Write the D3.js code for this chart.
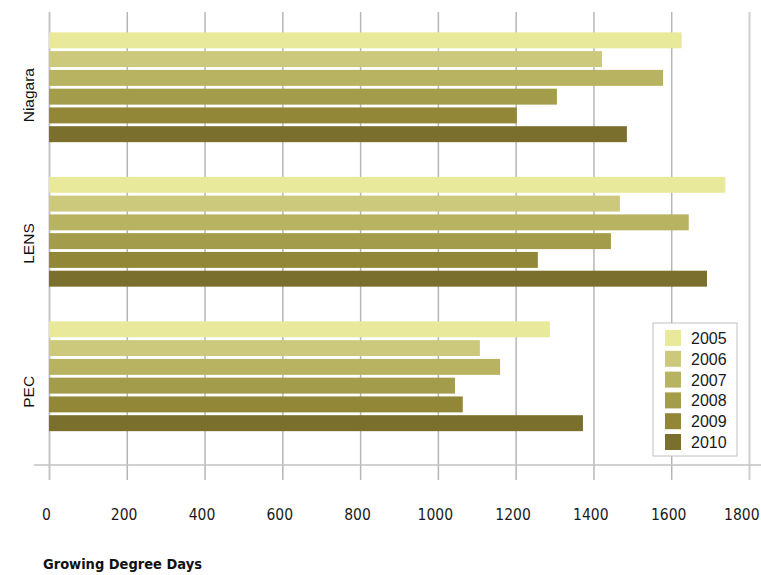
<!DOCTYPE html>
<html>
<head>
<meta charset="utf-8">
<script src="https://cdn.jsdelivr.net/npm/d3@7"></script>
<style>
  body { margin: 0; background: #fff; }
  svg { display: block; }
</style>
</head>
<body>
<svg id="chart" width="761" height="575"></svg>
<script>
// dati
const sites = ["Niagara", "LENS", "PEC"];
const years = ["2005", "2006", "2007", "2008", "2009", "2010"];
const colors = ["#e8e99b", "#ccc97c", "#b8b360", "#a39c4a", "#918737", "#7b6f2e"];
const gddNiagara = [1627, 1422, 1579, 1306, 1203, 1486];
const gddLens = [1739, 1468, 1645, 1445, 1257, 1692];
const gddPec = [1288, 1108, 1160, 1044, 1064, 1373];
const xTicks = [0, 200, 400, 600, 800, 1000, 1200, 1400, 1600, 1800];

const values = { Niagara: gddNiagara, LENS: gddLens, PEC: gddPec };
const rows = [];
sites.forEach(s => years.forEach((y, i) => rows.push({ site: s, year: y, v: values[s][i] })));

const svg = d3.select("#chart");
const plotTop = 12, axisY = 465;
const narrow = "'DejaVu Sans Condensed', 'DejaVu Sans', sans-serif";

const x = d3.scaleLinear().domain([0, 1800]).range([49, 749]);
const y0 = d3.scaleBand().domain(sites).range([15, 448.5]).paddingInner(0.24).paddingOuter(0.12);
const y1 = d3.scaleBand().domain(years).range([0, y0.bandwidth()]).paddingInner(0.15);
const yLab = d3.scaleBand().domain(sites).range([20, 465]);
const color = d3.scaleOrdinal().domain(years).range(colors);

//griglia + tick + etichette
const gx = svg.append("g")
  .attr("transform", `translate(0,${axisY})`)
  .call(d3.axisBottom(x).tickValues(xTicks).tickFormat(d3.format("d")).tickSize(15).tickPadding(29));
gx.select(".domain").remove();
gx.selectAll(".tick line")
  .attr("y1", -(axisY - plotTop))
  .attr("y2", 15)
  .attr("stroke", d => d === 0 ? "#c6c6c6" : (d === 1800 ? "#cfcfcf" : "#b6b6b6"))
  .attr("stroke-width", d => d === 0 || d === 1800 ? 2 : 1.5);
gx.selectAll(".tick text")
  .attr("dx", d => d === 1800 ? "-0.5em" : "-0.2em")
  .attr("fill", "#1a1a1a")
  .style("font-family", narrow)
  .style("font-stretch", "condensed")
  .style("font-size", "15.5px");

svg.append("line")
  .attr("x1", 34).attr("x2", 761)
  .attr("y1", axisY).attr("y2", axisY)
  .attr("stroke", "#c2c2c2").attr("stroke-width", 1.5);

//barre
svg.append("g").selectAll("rect")
  .data(rows)
  .join("rect")
  .attr("x", x(0))
  .attr("y", d => y0(d.site) + y1(d.year))
  .attr("width", d => x(d.v) - x(0))
  .attr("height", y1.bandwidth())
  .attr("fill", d => color(d.year));

//etichette categorie
svg.append("g").selectAll("text")
  .data(sites)
  .join("text")
  .attr("transform", d => `translate(33.5,${yLab(d) + yLab.bandwidth() / 2 + 1}) rotate(-90)`)
  .attr("text-anchor", "middle")
  .attr("fill", "#111")
  .style("font-family", "'Liberation Sans', Arial, sans-serif")
  .style("font-size", "15.5px")
  .text(d => d);

svg.append("text")
  .attr("x", 43).attr("y", 569)
  .attr("fill", "#111")
  .style("font-family", narrow)
  .style("font-stretch", "condensed")
  .style("font-weight", "bold")
  .style("font-size", "14.5px")
  .text("Growing Degree Days");

//legenda
const leg = svg.append("g").attr("transform", "translate(653,323)");
leg.append("rect")
  .attr("width", 84).attr("height", 133)
  .attr("fill", "#fff").attr("stroke", "#c0c0c0").attr("stroke-width", 1);
const li = leg.selectAll("g.item")
  .data(years)
  .join("g")
  .attr("class", "item")
  .attr("transform", (d, i) => `translate(12,${7 + i * 20.8})`);
li.append("rect")
  .attr("width", 16).attr("height", 16)
  .attr("fill", d => color(d));
li.append("text")
  .attr("x", 26).attr("y", 14)
  .attr("fill", "#1a1a1a")
  .style("font-family", "'Liberation Sans', Arial, sans-serif")
  .style("font-size", "16px")
  .text(d => d);
</script>
</body>
</html>
